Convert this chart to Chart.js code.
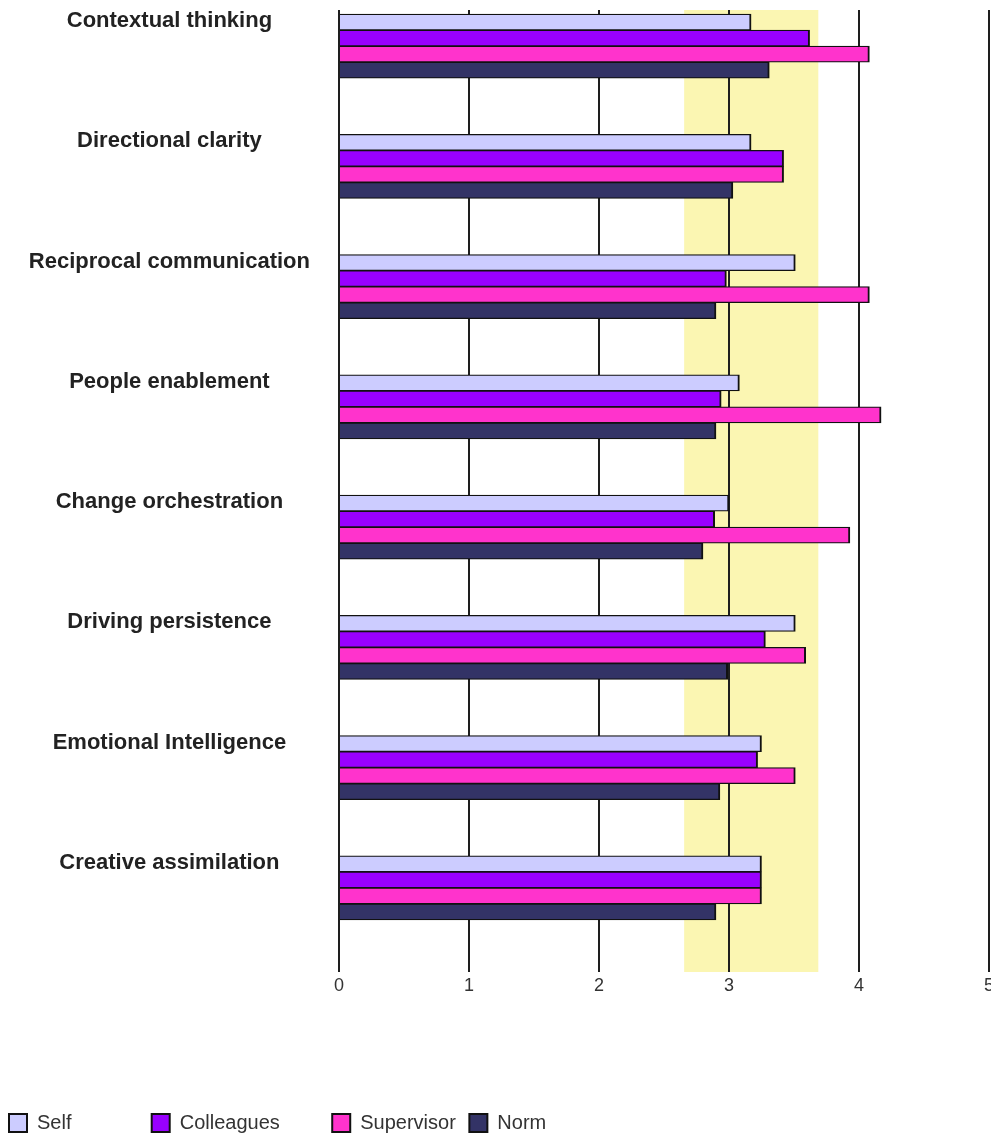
<!DOCTYPE html>
<html>
<head>
<meta charset="utf-8">
<script src="https://cdn.jsdelivr.net/npm/chart.js@4.4.1/dist/chart.umd.min.js"></script>
<style>
  html, body { margin: 0; padding: 0; background: #fff; }
  #chart { display: block; }
</style>
</head>
<body>
<canvas id="chart" width="991" height="1135"></canvas>
<script>
// Competencies, top to bottom
const categories = [
    'Contextual thinking',
    'Directional clarity',
    'Reciprocal communication',
    'People enablement',
    'Change orchestration',
    'Driving persistence',
    'Emotional Intelligence',
    'Creative assimilation'
]

// Scores per rater group
const self = [3.17, 3.17, 3.51, 3.08, 3.00, 3.51, 3.25, 3.25]
const colleagues = [3.62, 3.42, 2.98, 2.94, 2.89, 3.28, 3.22, 3.25]
const supervisor = [4.08, 3.42, 4.08, 4.17, 3.93, 3.59, 3.51, 3.25]
const norm = [3.31, 3.03, 2.90, 2.90, 2.80, 2.99, 2.93, 2.90]

const seriesNames = ['Self', 'Colleagues', 'Supervisor', 'Norm']
const seriesColors = ['#ccccff', '#9900ff', '#ff33cc', '#333366']

// Shaded norm band and axis ticks
const bandRange = [2.655, 3.687]
const xTicks = [0, 1, 2, 3, 4, 5]

// extra spaces after each legend text, to spread the legend like the original
const legendGaps = [13, 8, 1, 0]

const series = [self, colleagues, supervisor, norm]

const datasets = series.map((values, i) => ({
    label: seriesNames[i],
    data: values,
    backgroundColor: seriesColors[i],
    borderColor: '#111',
    borderWidth: {top: 1.2, bottom: 1.2, right: 2, left: 0}
}))

// empty groups so each block of bars sits at the top of its row
for (let i = 0; i < 3; i++) {
    datasets.push({label: '', data: categories.map(() => null)})
}

const bandPlugin = {
    id: 'normBand',
    beforeDraw(chart) {
        const {ctx, chartArea, scales} = chart
        const left = scales.x.getPixelForValue(bandRange[0])
        const right = scales.x.getPixelForValue(bandRange[1])
        ctx.save()
        ctx.fillStyle = '#fbf6b2'
        ctx.fillRect(left, chartArea.top, right - left, chartArea.bottom - chartArea.top)
        ctx.restore()
    }
}

Chart.defaults.font.family = "'Liberation Sans', Arial, sans-serif"

const canvas = document.getElementById('chart')
const myChart = new Chart(canvas, {
    type: 'bar',
    data: {labels: categories, datasets: datasets},
    plugins: [bandPlugin],
    options: {
        indexAxis: 'y',
        responsive: false,
        animation: false,
        layout: {padding: {left: 1, right: 2, top: 10, bottom: 0}},
        datasets: {
            bar: {barThickness: 16}
        },
        scales: {
            x: {
                min: xTicks[0],
                max: xTicks[xTicks.length - 1],
                afterBuildTicks: scale => {
                    scale.ticks = xTicks.map(v => ({value: v}))
                },
                ticks: {color: '#333', font: {size: 18}, padding: 3},
                grid: {color: '#1e1e1e', lineWidth: 2, drawTicks: false},
                border: {display: false},
                afterFit: scale => {
                    scale.height = 133
                    scale.paddingLeft = 0
                    scale.paddingRight = 0
                }
            },
            y: {
                ticks: {
                    color: '#222',
                    font: {size: 22, weight: 'bold'},
                    crossAlign: 'center',
                    padding: 29,
                    labelOffset: -49,
                    autoSkip: false
                },
                grid: {display: false, drawTicks: false},
                border: {display: false},
                afterFit: scale => {
                    scale.width = 338
                    scale.paddingTop = 0
                    scale.paddingBottom = 0
                }
            }
        },
        plugins: {
            tooltip: {enabled: false},
            legend: {
                position: 'bottom',
                align: 'start',
                maxHeight: 30,
                labels: {
                    boxWidth: 18,
                    boxHeight: 18,
                    padding: 8,
                    color: '#333',
                    font: {size: 20},
                    generateLabels: chart => {
                        const items = Chart.defaults.plugins.legend.labels.generateLabels(chart)
                        return items.map(item => {
                            const i = item.datasetIndex
                            if (i < seriesNames.length) {
                                item.text = seriesNames[i] + ' '.repeat(legendGaps[i])
                            }
                            item.lineWidth = 2
                            item.strokeStyle = '#111'
                            return item
                        })
                    },
                    filter: item => item.datasetIndex < seriesNames.length
                }
            }
        }
    }
})
</script>
</body>
</html>
